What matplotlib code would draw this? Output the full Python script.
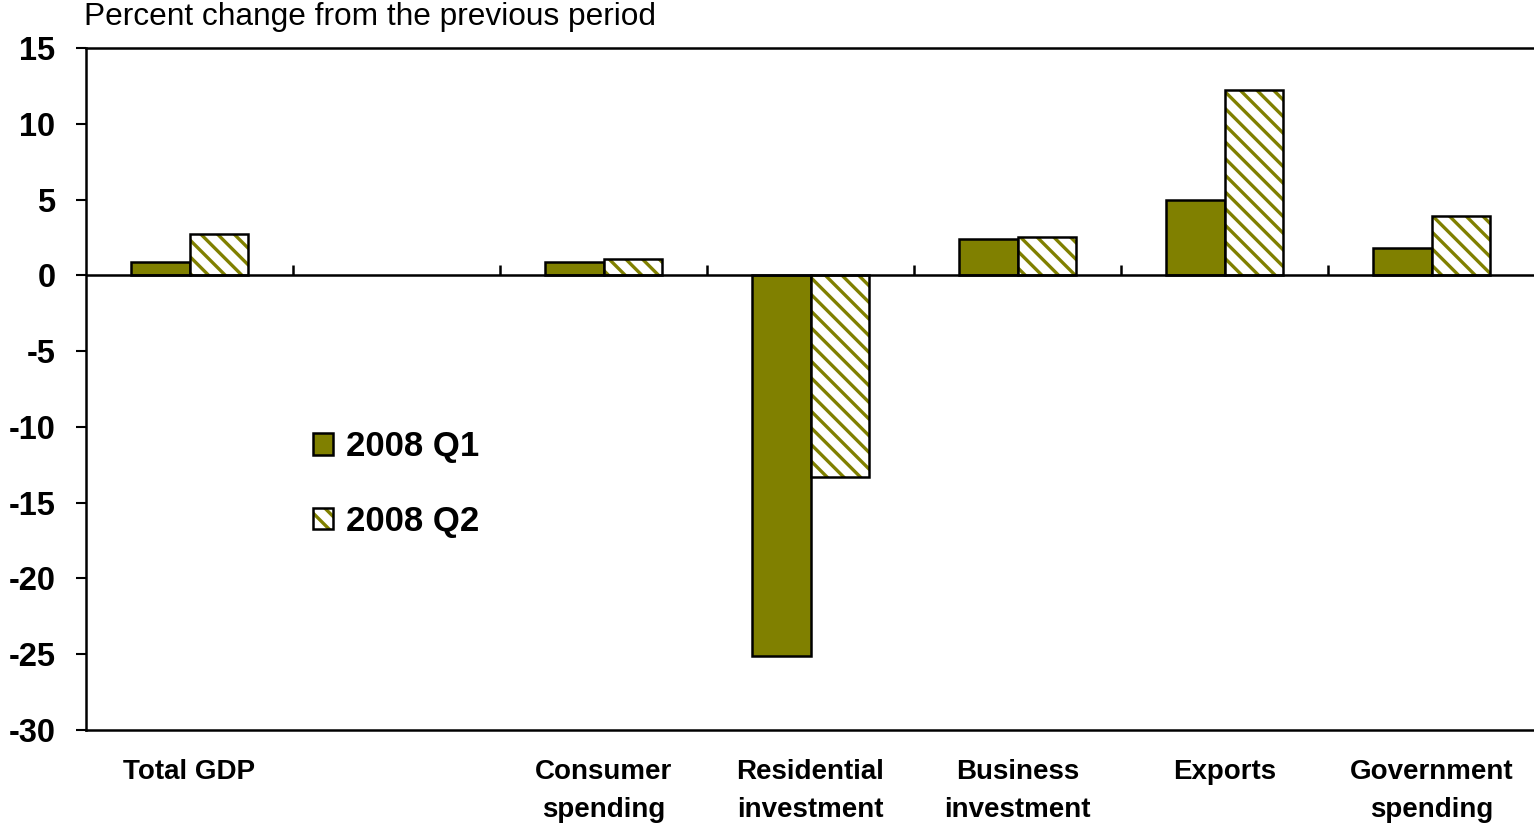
import matplotlib
matplotlib.use("Agg")
import matplotlib.pyplot as plt
import matplotlib.patches as mpatches
import numpy as np

categories = ["Total GDP", "", "Consumer\nspending", "Residential\ninvestment",
              "Business\ninvestment", "Exports", "Government\nspending"]
q1 = [0.9, np.nan, 0.9, -25.1, 2.4, 5.0, 1.8]
q2 = [2.7, np.nan, 1.1, -13.3, 2.5, 12.2, 3.9]
series_names = ["2008 Q1", "2008 Q2"]
yticks = [15, 10, 5, 0, -5, -10, -15, -20, -25, -30]

OLIVE = "#808000"
HATCH = "\\\\"
plt.rcParams["font.family"] = ["Liberation Sans", "DejaVu Sans"]
plt.rcParams["hatch.linewidth"] = 2.4

W, H = 1534, 825
fig = plt.figure(figsize=(W / 100, H / 100), dpi=100)
ax = fig.add_axes([86 / W, 1 - 730 / H, 1449 / W, 682 / H])

x = np.arange(len(categories))
bw = 0.285
ax.bar(x - bw / 2, q1, bw, color=OLIVE, edgecolor="black", linewidth=1.8, zorder=2)
ax.bar(x + bw / 2, q2, bw, color="white", edgecolor=OLIVE, hatch=HATCH,
       linewidth=0, zorder=2)
ax.bar(x + bw / 2, q2, bw, fill=False, edgecolor="black", linewidth=1.8, zorder=3)

ax.set_xlim(-0.5, len(categories) - 0.5)
ax.set_ylim(-30, 15)
ax.set_yticks(yticks)
ax.set_yticklabels([str(v) for v in yticks], fontsize=23.5, fontweight="bold")
ax.tick_params(axis="y", length=7, width=1.5, pad=15)

ax.set_xticks(x)
ax.set_xticklabels(categories, fontsize=20, fontweight="bold")
ax.tick_params(axis="x", length=0, pad=21)
for t in ax.get_xticklabels():
    t.set_linespacing(1.6)

for s in ["left", "bottom", "top"]:
    ax.spines[s].set_linewidth(1.8)
ax.spines["right"].set_visible(False)

# zero line with category-boundary ticks
sec = ax.secondary_xaxis(30 / 45)
sec.set_xticks(np.arange(0.5, len(categories) - 0.5, 1.0))
sec.set_xticklabels([])
sec.tick_params(axis="x", direction="out", length=7, width=1.8)
sec.spines["bottom"].set_linewidth(1.8)
ax.axhline(0, color="black", linewidth=1.8, zorder=4)

# legend
h1 = mpatches.Patch(facecolor=OLIVE, edgecolor="black", linewidth=1.8)
h2a = mpatches.Patch(facecolor="white", edgecolor=OLIVE, hatch=HATCH, linewidth=0)
h2b = mpatches.Patch(fill=False, edgecolor="black", linewidth=1.8)
leg = ax.legend([h1, (h2a, h2b)], series_names, loc="upper left",
                bbox_to_anchor=(313 / W, 1 - 430 / H), bbox_transform=fig.transFigure,
                frameon=False, prop={"size": 25, "weight": "bold"},
                handlelength=0.58, handleheight=0.58, handletextpad=0.38,
                labelspacing=1.2, borderpad=0, borderaxespad=0)

fig.text(84 / W, 1 - 17 / H, "Percent change from the previous period",
         fontsize=22.8, va="center", ha="left")

fig.savefig("out.png", dpi=100)
